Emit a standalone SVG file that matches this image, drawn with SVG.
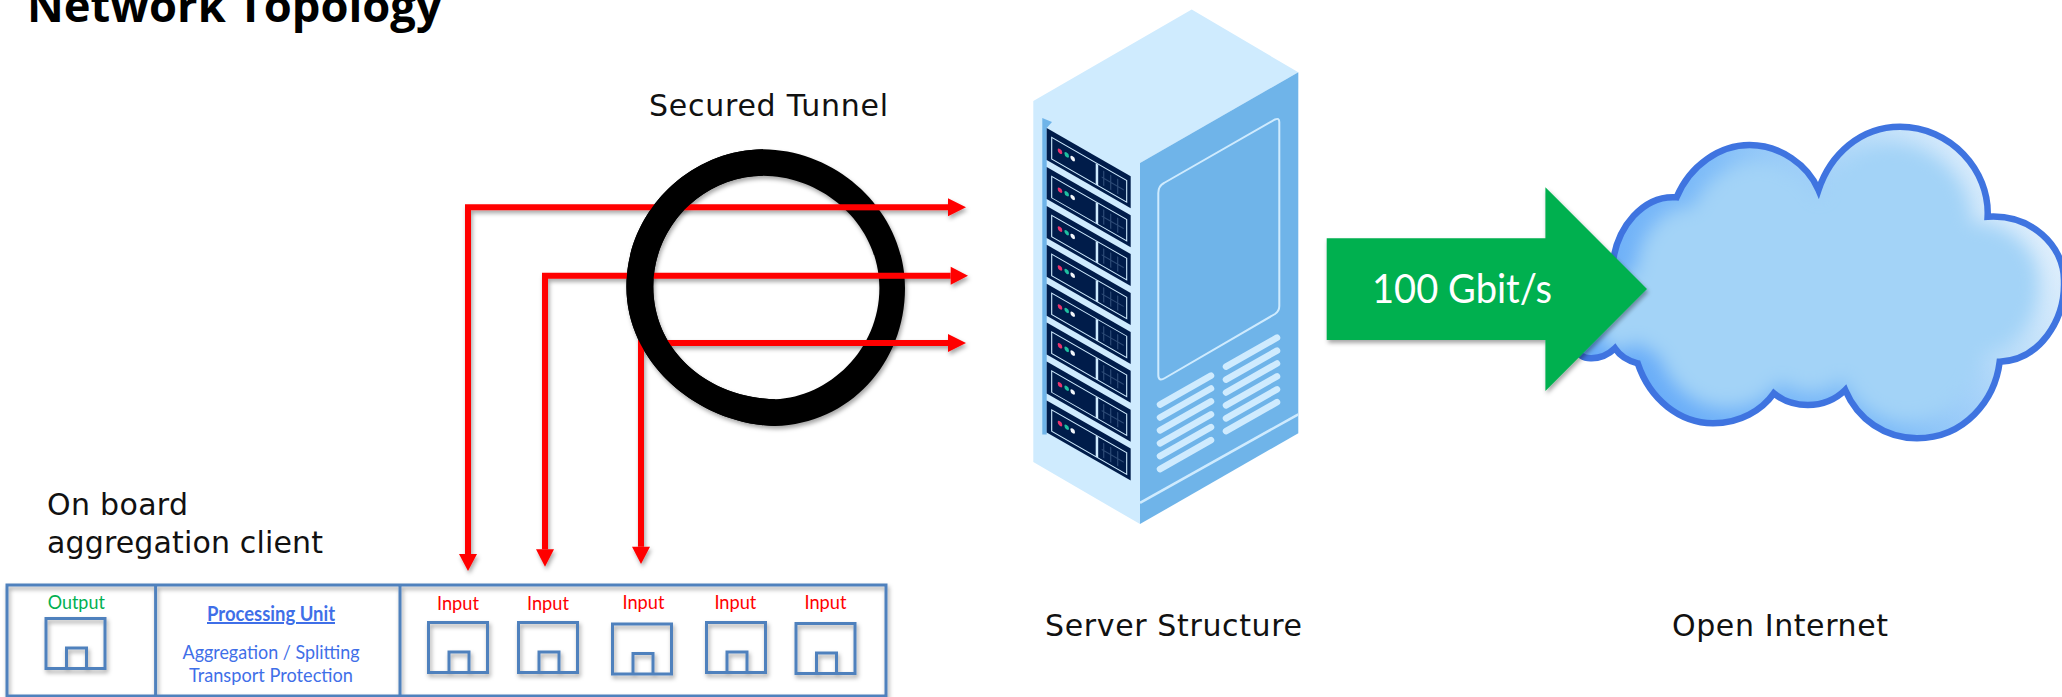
<svg xmlns="http://www.w3.org/2000/svg" xmlns:xlink="http://www.w3.org/1999/xlink" width="2062" height="697" viewBox="0 0 2062 697">
<style>
.lbl{font-family:"DejaVu Sans",sans-serif;font-size:30px;fill:#111}
.c{font-family:Lato,"Open Sans",sans-serif;font-size:20px;text-anchor:middle}
.inp{fill:#ff0000}
.pu{fill:#3f6fe8}
.box{fill:none;stroke:#4f81bd;stroke-width:3}
.wire{fill:none;stroke:#ff0000;stroke-width:6}
.vent{stroke:#cfebfe;stroke-width:6.500;stroke-linecap:round}
</style>
<defs>
<filter id="sh" x="-20%" y="-20%" width="140%" height="140%"><feDropShadow dx="1.5" dy="3" stdDeviation="2" flood-color="#000" flood-opacity=".35"/></filter>
<filter id="bl" x="-20%" y="-20%" width="140%" height="140%"><feGaussianBlur stdDeviation="10"/></filter>
<linearGradient id="cg" gradientUnits="userSpaceOnUse" x1="1640" y1="400" x2="2000" y2="160"><stop offset="0" stop-color="#68acf8"/><stop offset=".45" stop-color="#80bdf8"/><stop offset=".75" stop-color="#b8dcf9"/><stop offset="1" stop-color="#e0effc"/></linearGradient>
<path id="cp" d="M1591.500 358.300C1560 360 1560 280 1612 270C1615 225 1645 195 1676.600 197.300C1690 165 1720 145 1749.500 145C1780 145 1808 165 1818.500 190C1830 155 1860 126.700 1900 126.700C1950 126.700 1990 170 1987.600 216.700C2030 214 2065 245 2064 282C2065 320 2040 360 1999.700 361.700C1995 400 1965 438 1917 438.300C1885 438 1858 420 1845.200 390C1835 400 1822 405 1807.800 405C1795 405 1783 401 1773.800 393.300C1762 410 1740 423.300 1713 423.300C1680 423 1650 400 1637.700 363.300C1628 361 1620 356 1614.900 348.300C1608 355 1600 358 1591.500 358.300Z"/>
<clipPath id="cc"><use xlink:href="#cp" href="#cp"/></clipPath>
<g id="unit">
<path d="M0 0L84 48.200V80.200L0 32Z" fill="#001c4a"/>
<g transform="matrix(1 .574 0 1 0 0)">
<rect x="5" y="6.500" width="75" height="21.500" fill="none" stroke="#cfebfe" stroke-width="1.100"/>
<rect x="49" y="7" width="2.500" height="21" fill="#cfebfe"/>
<path d="M57 10V25M64 10V25M71 10V25M55 17.500H77" stroke="#2c4a75" stroke-width="1.200" fill="none"/>
<circle cx="13.300" cy="15.600" r="2.300" fill="#e8336d"/>
<circle cx="20" cy="15.300" r="2.300" fill="#1fbfa0"/>
<circle cx="26" cy="15.600" r="2.300" fill="#f2f6fa"/>
</g>
</g>
<path id="sock" d="M1.500 1.500H60.500V51.500H1.500ZM22 51.500V31H42V51.500"/>
</defs>
<rect width="2062" height="697" fill="#fff"/>
<text id="title" x="27" y="22" font-family="'Open Sans',sans-serif" font-weight="700" font-size="45.300" fill="#000">Network Topology</text>
<text class="lbl" x="649" y="116" textLength="239">Secured Tunnel</text>
<text class="lbl" x="47" y="515" textLength="141">On board</text>
<text class="lbl" x="47" y="553" textLength="276">aggregation client</text>
<text class="lbl" x="1045" y="636" textLength="257">Server Structure</text>
<text class="lbl" x="1672" y="636" textLength="216">Open Internet</text>

<g id="server">
<path d="M1191.700 9.600L1298.300 72.300L1140 162.900V524.100L1033.300 462.100V100.900Z" fill="#cfebfe"/>
<path d="M1298.300 72.300V433.200L1140 524.100V162.900Z" fill="#6fb4e9"/>
<path d="M1042.300 118L1052 122L1046.700 128V434.600H1042.300Z" fill="#6fb4e9"/>
<path d="M1164 183L1275 119.500Q1279.300 117.500 1279.300 122V306Q1279.300 311 1275 314L1165 378Q1158.300 382 1158.300 375V193Q1158.300 186 1164 183Z" fill="none" stroke="#cfebfe" stroke-width="2"/>
<path d="M1140 502.800L1298.300 414.300" stroke="#cfebfe" stroke-width="2.500"/>
<g class="vent">
<path d="M1226 366.700L1277 337.700M1226 379.600L1277 350.600M1226 392.500L1277 363.500M1226 405.400L1277 376.400M1226 418.300L1277 389.300M1226 431.200L1277 402.200"/>
<path d="M1160 404.600L1211 375.600M1160 417.500L1211 388.500M1160 430.400L1211 401.400M1160 443.300L1211 414.300M1160 456.200L1211 427.200M1160 469.100L1211 440.100"/>
</g>
<use xlink:href="#unit" href="#unit" x="1046.700" y="128.100"/>
<use xlink:href="#unit" href="#unit" x="1046.700" y="167"/>
<use xlink:href="#unit" href="#unit" x="1046.700" y="205.900"/>
<use xlink:href="#unit" href="#unit" x="1046.700" y="244.800"/>
<use xlink:href="#unit" href="#unit" x="1046.700" y="283.700"/>
<use xlink:href="#unit" href="#unit" x="1046.700" y="322.600"/>
<use xlink:href="#unit" href="#unit" x="1046.700" y="361.500"/>
<use xlink:href="#unit" href="#unit" x="1046.700" y="400.400"/>
</g>

<g id="cloud">
<use xlink:href="#cp" href="#cp" fill="url(#cg)"/>
<g clip-path="url(#cc)"><use xlink:href="#cp" href="#cp" fill="#a3d3f7" filter="url(#bl)" transform="translate(1830 285) scale(.89) translate(-1830 -285)"/></g>
<use xlink:href="#cp" href="#cp" fill="none" stroke="#3f74e0" stroke-width="6.500"/>
</g>

<g id="arrow">
<path d="M1326.700 238.300H1545.400V187.300L1647 289L1545.400 391V340H1326.700Z" fill="#00b050" filter="url(#sh)"/>
<text x="1372" y="303.300" font-family="Lato,'Open Sans',sans-serif" font-size="40" fill="#fff" textLength="180" lengthAdjust="spacingAndGlyphs">100 Gbit/s</text>
</g>

<g id="tunnel-ring" filter="url(#sh)">
<path fill-rule="evenodd" d="M763 149.300C839 150 905 212 905 288C905 364 849 424 775.300 426C699 424 626.400 364 626.400 286.700C626.400 212 689 150 763 149.300ZM763 175.700C704 176 653.300 225 653.300 286.700C653.300 348 704 397 775.300 399.300C829 397 879.400 350 879.400 288C879.400 225 824 176 763 175.700Z" fill="#000"/>
</g>

<g id="connectors" filter="url(#sh)">
<path class="wire" d="M948 207.300H468V554"/>
<path class="wire" d="M950.700 275.700H545V549.300"/>
<path class="wire" d="M948 343H641V546.700"/>
<path d="M948 198.300L966 207.300L948 216.300ZM950.700 266.700L968 275.700L950.700 284.700ZM948 334L966 343L948 352ZM459 554H477L468 571ZM536 549.300H554L545 566.700ZM632 546.700H650L641 564Z" fill="#ff0000"/>
</g>

<g id="ring-left">
<path fill-rule="evenodd" d="M763 149.300C689 150 626.400 212 626.400 286.700C626.400 364 699 424 775.300 426V399.300C704 397 653.300 348 653.300 286.700C653.300 225 704 176 763 175.700Z" fill="#000"/>
</g>

<g id="client-board" filter="url(#sh)">
<rect class="box" x="7" y="585" width="879" height="111"/>
<path class="box" d="M155.600 585V696M400 585V696"/>
<use class="box" xlink:href="#sock" href="#sock" x="44.500" y="617"/>
<use class="box" xlink:href="#sock" href="#sock" x="427" y="621"/>
<use class="box" xlink:href="#sock" href="#sock" x="517" y="621"/>
<use class="box" xlink:href="#sock" href="#sock" x="611" y="622.500"/>
<use class="box" xlink:href="#sock" href="#sock" x="705" y="621"/>
<use class="box" xlink:href="#sock" href="#sock" x="794.500" y="622"/>
</g>
<g id="client-text">
<text class="c" x="76.300" y="609" fill="#00b050" textLength="57" lengthAdjust="spacingAndGlyphs">Output</text>
<text class="c inp" x="458" y="610" textLength="42" lengthAdjust="spacingAndGlyphs">Input</text>
<text class="c inp" x="548" y="610" textLength="42" lengthAdjust="spacingAndGlyphs">Input</text>
<text class="c inp" x="643.500" y="609" textLength="42" lengthAdjust="spacingAndGlyphs">Input</text>
<text class="c inp" x="735.400" y="609" textLength="42" lengthAdjust="spacingAndGlyphs">Input</text>
<text class="c inp" x="825.500" y="609" textLength="42" lengthAdjust="spacingAndGlyphs">Input</text>
<text class="c pu" x="271" y="621" font-weight="700" text-decoration="underline" textLength="128" lengthAdjust="spacingAndGlyphs">Processing Unit</text>
<text class="c pu" x="271" y="659" textLength="177" lengthAdjust="spacingAndGlyphs">Aggregation / Splitting</text>
<text class="c pu" x="271" y="681.700" textLength="164" lengthAdjust="spacingAndGlyphs">Transport Protection</text>
</g>
</svg>
